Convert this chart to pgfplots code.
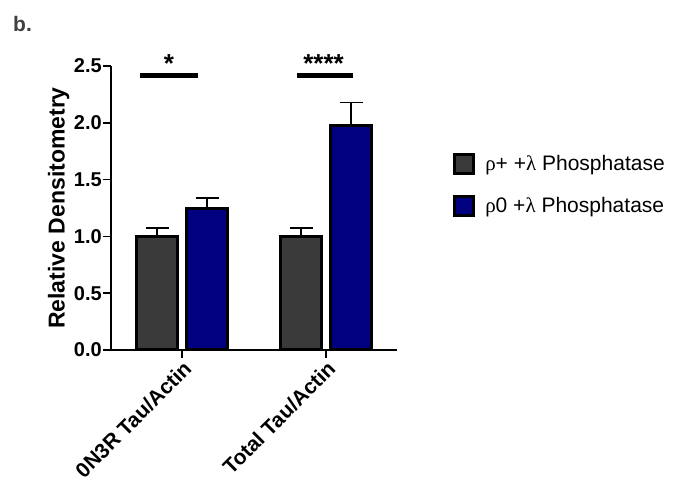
\documentclass[border=0pt]{standalone}
\usepackage{pgfplots}
\pgfplotsset{compat=1.18}
\usepackage{fontspec}
\setmainfont{Liberation Sans}
\newfontfamily\grk{Liberation Serif}
\definecolor{darkbar}{HTML}{3A3A3A}
\definecolor{navybar}{HTML}{000080}
\begin{document}
\begin{tikzpicture}
\path[use as bounding box] (0,0) rectangle (699pt,494pt);
\node[anchor=base west, font=\fontsize{21}{23}\selectfont\bfseries, text=black!75, inner sep=0pt] at (13pt,462pt) {b.};
\begin{axis}[
  at={(111pt,144pt)}, anchor=south west,
  scale only axis, width=286pt, height=284pt,
  xmin=-0.493, xmax=1.493, ymin=0, ymax=2.5,
  axis lines=left, axis line style={-, line width=1.6pt},
  clip=false,
  xtick={0,1}, xticklabels={0N3R Tau/Actin, Total Tau/Actin},
  ytick={0,0.5,1,1.5,2,2.5},
  tick align=outside, major tick length=8pt,
  tick style={line width=1.6pt, black},
  /pgf/number format/assume math mode=true,
  yticklabel style={font=\fontsize{20}{22}\selectfont\bfseries, inner sep=1pt, /pgf/number format/.cd, fixed, fixed zerofill, precision=1},
  xticklabel style={font=\fontsize{21}{23}\selectfont\bfseries, rotate=45, anchor=north east, inner sep=1pt},
  ylabel={Relative Densitometry},
  ylabel style={font=\fontsize{23}{26}\selectfont\bfseries},
  legend style={at={(1.196,0.694)}, anchor=north west, draw=none, fill=none, inner sep=0pt,
    font=\fontsize{21}{24}\selectfont, row sep=20pt, column sep=8pt},
  legend cell align=left,
  legend image code/.code={\draw[#1,/tikz/.cd,line width=3pt] (1.5pt,-9.5pt) rectangle (20.5pt,9.5pt);},
]
\addplot[ybar, bar width=41pt, bar shift=0pt, fill=darkbar, draw=black, line width=3pt,
  error bars/.cd, y dir=plus, y explicit, error bar style={line width=1.6pt, black},
  error mark=|, error mark options={line width=1.6pt, mark size=11.5pt, black}]
  coordinates {(-0.172,1.0) +- (0,0.075) (0.828,1.0) +- (0,0.075)};
\addlegendentry{{\grk ρ}+ +{\grk λ} Phosphatase}
\addplot[ybar, bar width=41pt, bar shift=0pt, fill=navybar, draw=black, line width=3pt,
  error bars/.cd, y dir=plus, y explicit, error bar style={line width=1.6pt, black},
  error mark=|, error mark options={line width=1.6pt, mark size=11.5pt, black}]
  coordinates {(0.174,1.245) +- (0,0.095) (1.174,1.98) +- (0,0.2)};
\addlegendentry{{\grk ρ}0 +{\grk λ} Phosphatase}
\draw[line width=5pt] (axis cs:-0.292,2.416) -- (axis cs:0.111,2.416);
\draw[line width=5pt] (axis cs:0.799,2.416) -- (axis cs:1.188,2.416);
\node[font=\fontsize{26}{28}\selectfont\bfseries, anchor=base, inner sep=0pt] at (axis cs:-0.09,2.445) {*};
\node[font=\fontsize{26}{28}\selectfont\bfseries, anchor=base, inner sep=0pt] at (axis cs:0.983,2.445) {****};
\end{axis}
\end{tikzpicture}
\end{document}
